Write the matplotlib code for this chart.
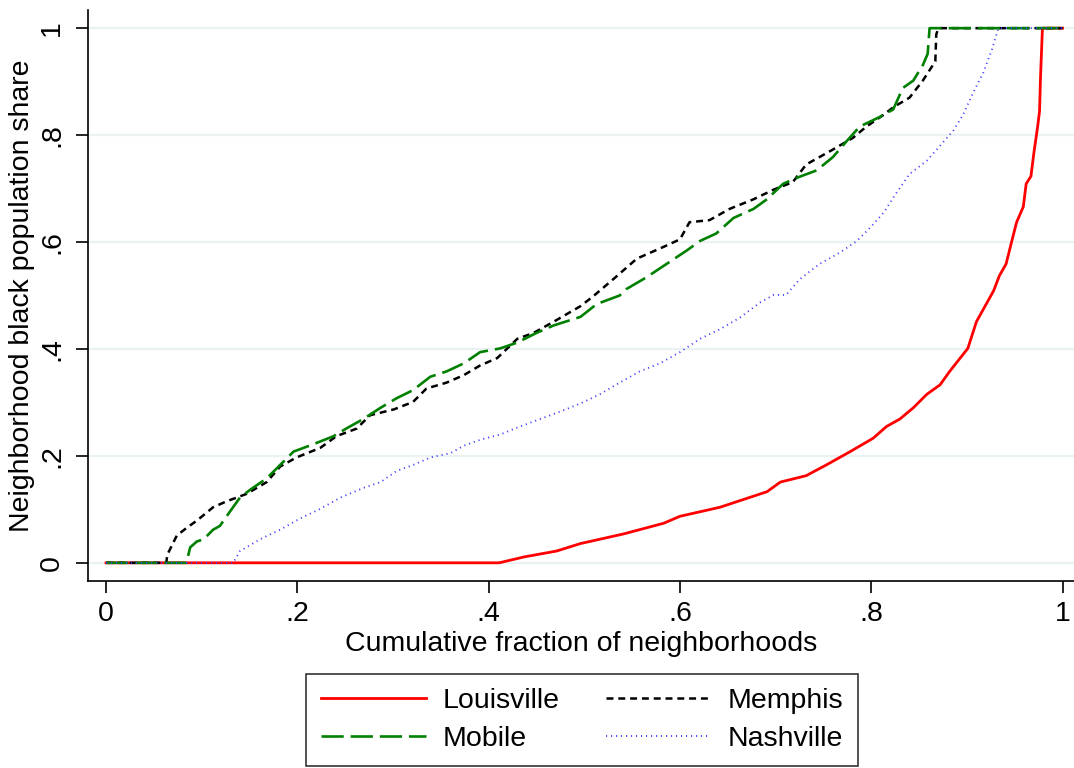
import matplotlib
matplotlib.use("Agg")
import matplotlib.pyplot as plt

plt.rcParams['font.family'] = ['Liberation Sans', 'DejaVu Sans']
plt.rcParams['lines.scale_dashes'] = False

# values
louisville_x = [0.0, 0.411, 0.437, 0.471, 0.496, 0.541, 0.583, 0.600, 0.642, 0.691, 0.705,
                0.732, 0.753, 0.778, 0.802, 0.816, 0.830, 0.844, 0.858, 0.872, 0.882,
                0.893, 0.901, 0.910, 0.919, 0.928, 0.934, 0.941, 0.947, 0.952, 0.959,
                0.962, 0.967, 0.970, 0.974, 0.976, 0.977, 0.979, 1.0]
louisville_y = [0.0, 0.0, 0.011, 0.022, 0.036, 0.054, 0.074, 0.087, 0.104, 0.133, 0.151,
                0.163, 0.183, 0.208, 0.233, 0.255, 0.269, 0.290, 0.315, 0.333, 0.358,
                0.383, 0.401, 0.451, 0.480, 0.509, 0.537, 0.559, 0.602, 0.637, 0.666,
                0.709, 0.723, 0.766, 0.816, 0.845, 0.909, 1.0, 1.0]

memphis_x = [0.0, 0.063, 0.064, 0.074, 0.084, 0.095, 0.112, 0.126, 0.147, 0.168, 0.182,
             0.199, 0.224, 0.241, 0.262, 0.276, 0.301, 0.321, 0.335, 0.356, 0.374,
             0.391, 0.409, 0.430, 0.447, 0.468, 0.496, 0.509, 0.530, 0.555, 0.583,
             0.600, 0.610, 0.631, 0.652, 0.677, 0.698, 0.718, 0.732, 0.760, 0.781,
             0.795, 0.813, 0.823, 0.840, 0.854, 0.867, 0.868, 0.870, 1.0]
memphis_y = [0.0, 0.0, 0.015, 0.051, 0.065, 0.079, 0.104, 0.115, 0.129, 0.151, 0.180,
             0.197, 0.215, 0.237, 0.251, 0.276, 0.287, 0.301, 0.326, 0.337, 0.351,
             0.369, 0.383, 0.419, 0.430, 0.451, 0.480, 0.498, 0.530, 0.569, 0.591,
             0.605, 0.637, 0.641, 0.662, 0.680, 0.698, 0.712, 0.745, 0.773, 0.795,
             0.816, 0.838, 0.852, 0.870, 0.902, 0.938, 0.988, 1.0, 1.0]

mobile_x = [0.0, 0.084, 0.088, 0.095, 0.102, 0.112, 0.119, 0.130, 0.140, 0.151, 0.168,
            0.182, 0.196, 0.217, 0.238, 0.251, 0.269, 0.287, 0.304, 0.321, 0.339,
            0.356, 0.374, 0.391, 0.412, 0.430, 0.450, 0.468, 0.496, 0.513, 0.537,
            0.544, 0.565, 0.586, 0.607, 0.621, 0.638, 0.656, 0.677, 0.691, 0.708,
            0.725, 0.743, 0.760, 0.774, 0.788, 0.809, 0.823, 0.833, 0.844, 0.854,
            0.859, 0.861, 1.0]
mobile_y = [0.0, 0.0, 0.029, 0.040, 0.044, 0.062, 0.069, 0.097, 0.122, 0.137, 0.158,
            0.183, 0.208, 0.222, 0.237, 0.251, 0.269, 0.290, 0.308, 0.323, 0.348,
            0.358, 0.373, 0.394, 0.401, 0.412, 0.430, 0.444, 0.460, 0.484, 0.500,
            0.512, 0.534, 0.559, 0.584, 0.602, 0.616, 0.645, 0.662, 0.680, 0.709,
            0.722, 0.734, 0.759, 0.788, 0.816, 0.834, 0.848, 0.888, 0.902, 0.931,
            0.952, 1.0, 1.0]

nashville_x = [0.0, 0.133, 0.140, 0.161, 0.182, 0.203, 0.224, 0.245, 0.269, 0.287, 0.304,
               0.321, 0.339, 0.360, 0.374, 0.391, 0.412, 0.433, 0.454, 0.475, 0.496,
               0.516, 0.537, 0.558, 0.579, 0.600, 0.621, 0.642, 0.663, 0.684, 0.698,
               0.711, 0.725, 0.746, 0.767, 0.785, 0.799, 0.813, 0.826, 0.840, 0.858,
               0.872, 0.886, 0.896, 0.907, 0.917, 0.926, 0.933, 1.0]
nashville_y = [0.0, 0.0, 0.022, 0.044, 0.062, 0.083, 0.101, 0.122, 0.140, 0.151, 0.172,
               0.183, 0.197, 0.205, 0.219, 0.230, 0.240, 0.255, 0.269, 0.283, 0.298,
               0.315, 0.337, 0.358, 0.373, 0.394, 0.419, 0.437, 0.459, 0.487, 0.501,
               0.501, 0.530, 0.559, 0.580, 0.602, 0.627, 0.655, 0.691, 0.727, 0.752,
               0.780, 0.809, 0.838, 0.881, 0.916, 0.959, 1.0, 1.0]

ticks = [0, 0.2, 0.4, 0.6, 0.8, 1.0]
tick_labels = ["0", ".2", ".4", ".6", ".8", "1"]

fs = 20.5

fig = plt.figure(figsize=(10.74, 7.68), dpi=100)
ax = fig.add_axes([0.082, 0.2435, 0.918, 0.7435])

ax.set_xlim(-0.0188, 1.012)
ax.set_ylim(-0.034, 1.034)
for t in ticks:
    ax.axhline(t, color="#eaf2f3", lw=1.6, zorder=0)

l_lou, = ax.plot(louisville_x, louisville_y, color="#ff0000", lw=2.0, label="Louisville")
l_mem, = ax.plot(memphis_x, memphis_y, color="black", lw=1.8, dashes=(5, 3.5), label="Memphis")
l_mob, = ax.plot(mobile_x, mobile_y, color="#008000", lw=1.9, dashes=(16, 5), label="Mobile")
l_nas, = ax.plot(nashville_x, nashville_y, color="#3a3aff", lw=1.3, dashes=(0.8, 2.8), label="Nashville")

ax.set_xticks(ticks)
ax.set_xticklabels(tick_labels)
ax.set_yticks(ticks)
ax.set_yticklabels(tick_labels, rotation=90, va="center")
ax.tick_params(axis="x", labelsize=fs, length=8.5, width=1.2, pad=6)
ax.tick_params(axis="y", labelsize=fs, length=8.5, width=1.2, pad=8)
for s in ["top", "right"]:
    ax.spines[s].set_visible(False)
for s in ["left", "bottom"]:
    ax.spines[s].set_linewidth(1.2)

ax.set_xlabel("Cumulative fraction of neighborhoods", fontsize=fs, labelpad=3)
ax.set_ylabel("Neighborhood black population share", fontsize=fs, labelpad=3)

leg = fig.legend([l_lou, l_mob, l_mem, l_nas], ["Louisville", "Mobile", "Memphis", "Nashville"],
                 ncol=2, loc="center", bbox_to_anchor=(0.542, 0.0625), fontsize=fs,
                 frameon=True, fancybox=False, edgecolor="black", handlelength=3.7,
                 handletextpad=0.6, columnspacing=1.6, labelspacing=0.4, borderpad=0.5)
leg.get_frame().set_linewidth(1.2)

fig.savefig("out.png", dpi=100)
